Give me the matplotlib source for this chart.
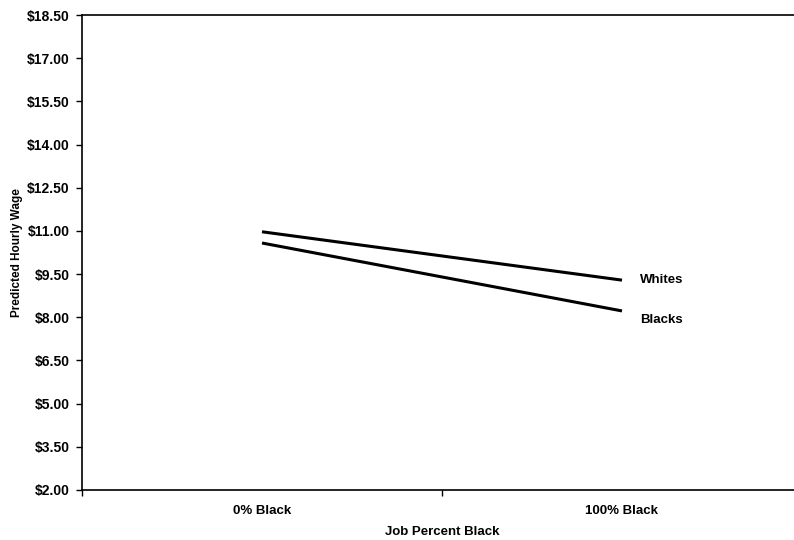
import matplotlib
matplotlib.use("Agg")
import matplotlib.pyplot as plt

categories = ["0% Black", "100% Black"]
whites = [10.97, 9.29]
blacks = [10.58, 8.22]
y_ticks = [2.0, 3.5, 5.0, 6.5, 8.0, 9.5, 11.0, 12.5, 14.0, 15.5, 17.0, 18.5]

plt.rcParams['font.family'] = ['Liberation Sans', 'DejaVu Sans']

fig = plt.figure(figsize=(7.94, 5.40), dpi=100)
ax = fig.add_axes([82 / 794, 50 / 540, 720 / 794, 475 / 540])

x = [0.5, 1.5]
ax.plot(x, whites, color='black', lw=2.2, solid_capstyle='butt')
ax.plot(x, blacks, color='black', lw=2.2, solid_capstyle='butt')
ax.text(1.55, whites[1], "Whites", fontsize=9.5, fontweight='bold', va='center', ha='left')
ax.text(1.55, blacks[1] - 0.32, "Blacks", fontsize=9.5, fontweight='bold', va='center', ha='left')

ax.set_xlim(0, 2)
ax.set_ylim(2.0, 18.5)
ax.set_yticks(y_ticks)
ax.set_yticklabels([f"${v:.2f}" for v in y_ticks], fontsize=10, fontweight='bold')
ax.set_xticks([0, 1, 2])
ax.set_xticklabels([])
ax.set_xticks(x, minor=True)
ax.set_xticklabels(categories, minor=True, fontsize=9.5, fontweight='bold')
ax.tick_params(axis='x', which='minor', length=0, pad=11)
ax.tick_params(axis='x', which='major', length=4, width=1, direction='out')
ax.tick_params(axis='y', length=4, width=1, direction='out', pad=5)

ax.spines['right'].set_visible(False)
for s in ['left', 'top', 'bottom']:
    ax.spines[s].set_linewidth(1.2)

ax.set_xlabel("Job Percent Black", fontsize=9.5, fontweight='bold', labelpad=6)
ax.set_ylabel("Predicted Hourly Wage", fontsize=8.5, fontweight='bold', labelpad=3)

fig.savefig("out.png", dpi=100)
